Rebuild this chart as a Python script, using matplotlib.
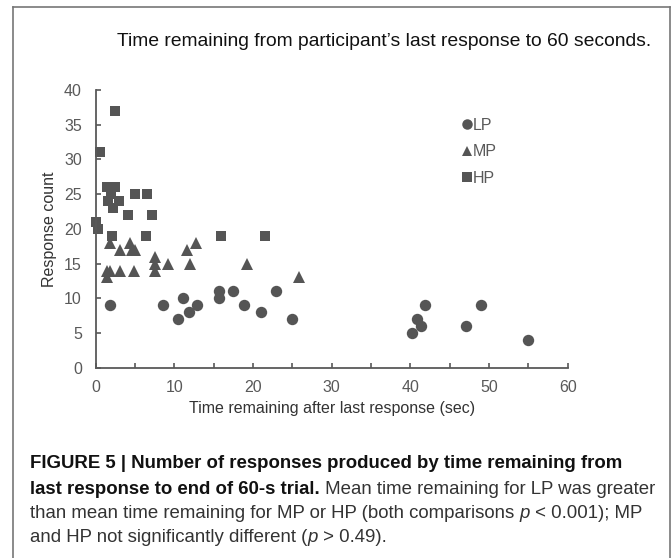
import numpy as np
import matplotlib
matplotlib.use('Agg')
import matplotlib.pyplot as plt
from matplotlib.lines import Line2D

# time remaining (sec) and response count
lp_time = [1.8, 8.6, 10.4, 11.1, 11.8, 12.9, 15.7, 15.7, 17.4, 18.8, 21.0, 22.9, 24.9,
           40.2, 40.9, 41.3, 41.9, 47.1, 49.0, 55.0]
lp_count = [9, 9, 7, 10, 8, 9, 10, 11, 11, 9, 8, 11, 7,
            5, 7, 6, 9, 6, 9, 4]

mp_time = [1.5, 1.4, 1.8, 1.8, 3.1, 3.1, 4.4, 4.6, 5.0, 4.9, 7.5, 7.5, 7.5, 9.2,
           11.6, 12.0, 12.7, 19.2, 25.8]
mp_count = [13, 14, 14, 18, 17, 14, 18, 17, 17, 14, 16, 15, 14, 15,
            17, 15, 18, 15, 13]

hp_time = [0.5, 2.5, 0.1, 0.3, 1.5, 2.5, 2.0, 1.6, 3.0, 2.2, 4.1, 5.0, 6.5, 7.1,
           2.1, 6.4, 15.9, 21.5]
hp_count = [31, 37, 21, 20, 26, 26, 25, 24, 24, 23, 22, 25, 25, 22,
            19, 19, 19, 19]

group_names = ['LP', 'MP', 'HP']
x_ticks = [0, 10, 20, 30, 40, 50, 60]
y_ticks = [0, 5, 10, 15, 20, 25, 30, 35, 40]

W, H = 672, 558
fig = plt.figure(figsize=(W / 100, H / 100), dpi=100)
plt.rcParams['font.family'] = ['Liberation Sans', 'DejaVu Sans']

gray = '#595959'
mark = '#555555'

ax = fig.add_axes([95.7 / W, 1 - 367.7 / H, 472 / W, 277.7 / H])
ax.plot(lp_time, lp_count, 'o', color=mark, markersize=8.2, markeredgewidth=0,
        label=group_names[0], clip_on=False)
ax.plot(mp_time, mp_count, '^', color=mark, markersize=8.4, markeredgewidth=0,
        label=group_names[1], clip_on=False)
ax.plot(hp_time, hp_count, 's', color=mark, markersize=7.6, markeredgewidth=0,
        label=group_names[2], clip_on=False)

ax.set_xlim(0, 60)
ax.set_ylim(0, 40)
ax.set_xticks(x_ticks)
ax.set_xticks([5, 15, 25, 35, 45, 55], minor=True)
ax.set_yticks(y_ticks)
for s in ['top', 'right']:
    ax.spines[s].set_visible(False)
for s in ['left', 'bottom']:
    ax.spines[s].set_color(gray)
    ax.spines[s].set_linewidth(1.3)
ax.tick_params(axis='both', which='both', direction='in', length=3.5, width=1.2, color=gray,
               labelcolor=gray, labelsize=11.5)
ax.tick_params(axis='y', pad=10)
ax.tick_params(axis='x', pad=8.5)
ax.set_xlabel('Time remaining after last response (sec)', fontsize=11.5, color='#333333', labelpad=5)
ax.set_ylabel('Response count', fontsize=11.5, color='#333333', labelpad=5)

leg = ax.legend(loc='upper left', bbox_to_anchor=(454 / W, 1 - 110 / H), bbox_transform=fig.transFigure,
                frameon=False, handlelength=0.6, handletextpad=0.05, labelspacing=0.72, borderpad=0,
                fontsize=11.5, labelcolor=gray, markerscale=0.92)

fig.text(117 / W, 1 - 42 / H, "Time remaining from participant\u2019s last response to 60 seconds.",
         fontsize=13.9, va='center', ha='left', color='#111111')

# outer frame (left, top, right)
frame = dict(transform=fig.transFigure, color='#777777', linewidth=1.2)
fig.add_artist(Line2D([13 / W, 670 / W], [1 - 7 / H, 1 - 7 / H], **frame))
fig.add_artist(Line2D([13 / W, 13 / W], [0, 1 - 7 / H], **frame))
fig.add_artist(Line2D([670 / W, 670 / W], [0, 1 - 7 / H], **frame))

# caption built from pieces (bold / italic / regular)
renderer = fig.canvas.get_renderer()
cap_font = ['Liberation Sans', 'DejaVu Sans']


def draw_line(x_px, y_px, pieces):
    x = x_px
    for txt, weight, style, color in pieces:
        t = fig.text(x / W, 1 - y_px / H, txt, fontsize=13.4, fontweight=weight, fontstyle=style,
                     color=color, va='center', ha='left', family=cap_font)
        bb = t.get_window_extent(renderer=renderer)
        x += bb.width


dark = '#111111'
reg = '#333333'
draw_line(30, 464, [('FIGURE 5 | Number of responses produced by time remaining from', 'bold', 'normal', dark)])
draw_line(30, 489, [('last response to end of 60-s trial.', 'bold', 'normal', dark),
                    (' Mean time remaining for LP was greater', 'normal', 'normal', reg)])
draw_line(30, 514, [('than mean time remaining for MP or HP (both comparisons ', 'normal', 'normal', reg),
                    ('p', 'normal', 'italic', reg),
                    (' < 0.001); MP', 'normal', 'normal', reg)])
draw_line(30, 538, [('and HP not significantly different (', 'normal', 'normal', reg),
                    ('p', 'normal', 'italic', reg),
                    (' > 0.49).', 'normal', 'normal', reg)])

fig.savefig('out.png', dpi=100)
